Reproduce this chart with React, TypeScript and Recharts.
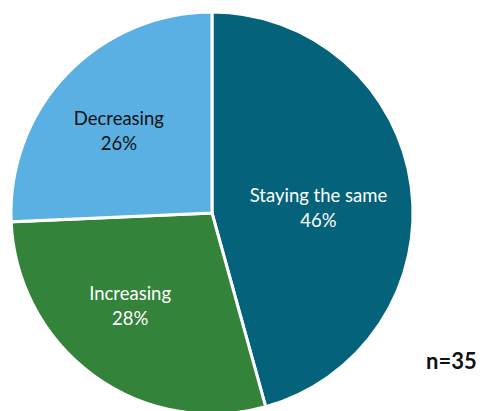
import React from "react";
import { PieChart, Pie, Cell } from "recharts";

const categories = ["Staying the same", "Increasing", "Decreasing"];
// slice sizes as measured from the wedge angles (n=35 -> 16, 10, 9)
const shares = [45.7, 28.6, 25.7];
const shareLabels = ["46%", "28%", "26%"];
const sampleNote = "n=35";

const COLORS = ["#04627A", "#33833A", "#5AB0E2"];
const TEXT_COLORS = ["#FFFFFF", "#FFFFFF", "#111111"];
// Excel "best fit" label placement: nudge from a point at 60% of the radius
const LABEL_NUDGE = [
  [-13, 10],
  [-11, -6],
  [-6, 0],
];

const data = categories.map((name, i) => ({ name, value: shares[i], label: shareLabels[i] }));

const RADIAN = Math.PI / 180;

const renderLabel = (props: any) => {
  const { cx, cy, midAngle, outerRadius, index, name } = props;
  const r = outerRadius * 0.6;
  const x = cx + r * Math.cos(-midAngle * RADIAN) + LABEL_NUDGE[index][0];
  const y = cy + r * Math.sin(-midAngle * RADIAN) + LABEL_NUDGE[index][1];
  return (
    <text
      x={x}
      y={y}
      fill={TEXT_COLORS[index]}
      textAnchor="middle"
      fontSize={18.5}
      fontFamily="Lato, 'Noto Sans', sans-serif"
    >
      <tspan x={x} dy={-5}>{name}</tspan>
      <tspan x={x} dy={25}>{data[index].label}</tspan>
    </text>
  );
};

const App: React.FC = () => {
  return (
    <div style={{ position: "absolute", left: 0, top: 0, width: 482, height: 411, background: "#fff" }}>
      <PieChart width={482} height={411} margin={{ top: 0, right: 0, bottom: 0, left: 0 }}>
        <Pie
          data={data}
          dataKey="value"
          nameKey="name"
          cx={212}
          cy={213}
          outerRadius={201}
          startAngle={90}
          endAngle={-270}
          stroke="#FFFFFF"
          strokeWidth={3}
          label={renderLabel}
          labelLine={false}
          isAnimationActive={false}
        >
          {data.map((entry, index) => (
            <Cell key={`cell-${index}`} fill={COLORS[index]} />
          ))}
        </Pie>
      </PieChart>
      <div
        style={{
          position: "absolute",
          left: 426,
          top: 347,
          fontFamily: "Lato, 'Noto Sans', sans-serif",
          fontWeight: 700,
          fontSize: 22,
          color: "#111",
        }}
      >
        {sampleNote}
      </div>
    </div>
  );
};

export default App;
